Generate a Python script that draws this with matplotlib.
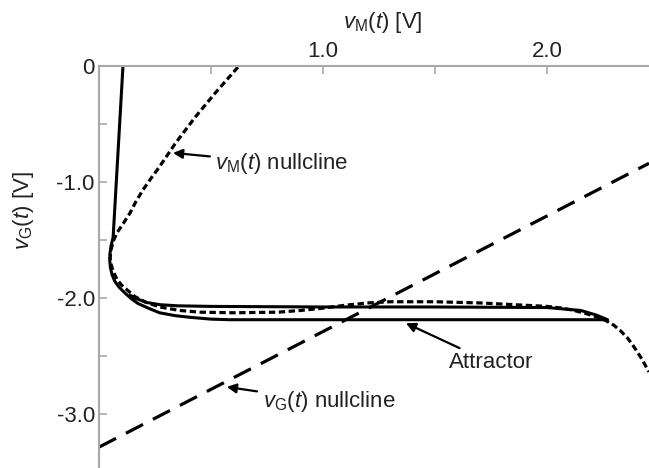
import matplotlib.pyplot as plt
import numpy as np

plt.rcParams['font.family'] = ['Liberation Sans', 'DejaVu Sans']
plt.rcParams['mathtext.fontset'] = 'custom'
plt.rcParams['mathtext.rm'] = 'Liberation Sans'
plt.rcParams['mathtext.it'] = 'Liberation Sans:italic'

# attractor trajectory (solid)
traj_vm = [0.107, 0.063, 0.054, 0.049, 0.048, 0.051, 0.058, 0.071, 0.09, 0.116, 0.145, 0.174,
           0.22, 0.27, 0.34, 0.41, 0.5, 0.58, 1.0, 1.5, 2.0, 2.27,
           2.22, 2.15, 2.0, 1.5, 1.0, 0.5, 0.35, 0.27, 0.21, 0.17, 0.14]
traj_vg = [0.0, -1.48, -1.55, -1.62, -1.68, -1.74, -1.8, -1.86, -1.91, -1.96, -2.01, -2.05,
           -2.09, -2.13, -2.155, -2.17, -2.185, -2.19, -2.19, -2.19, -2.19, -2.19,
           -2.15, -2.11, -2.085, -2.08, -2.08, -2.075, -2.07, -2.06, -2.04, -2.01, -1.98]

# v_M nullcline (dotted)
nm_vm = [0.62, 0.57, 0.52, 0.475, 0.43, 0.385, 0.34, 0.305, 0.27, 0.232, 0.196, 0.165, 0.138,
         0.108, 0.08, 0.062, 0.052, 0.05, 0.055, 0.065, 0.08, 0.1, 0.13, 0.16, 0.21, 0.27,
         0.36, 0.45, 0.6, 0.8, 0.9, 1.0, 1.1, 1.2, 1.3, 1.5, 1.7, 1.9, 2.0, 2.07, 2.12, 2.17,
         2.22, 2.26, 2.3, 2.33, 2.36, 2.39, 2.42, 2.455]
nm_vg = [-0.01, -0.12, -0.23, -0.335, -0.44, -0.555, -0.67, -0.77, -0.87, -0.97, -1.07, -1.17,
         -1.27, -1.36, -1.44, -1.52, -1.6, -1.66, -1.72, -1.78, -1.84, -1.89, -1.94, -1.99,
         -2.04, -2.08, -2.11, -2.125, -2.13, -2.125, -2.11, -2.09, -2.065, -2.045, -2.035,
         -2.035, -2.045, -2.065, -2.075, -2.09, -2.11, -2.135, -2.165, -2.195, -2.24, -2.29,
         -2.35, -2.43, -2.52, -2.64]

# v_G nullcline (long dashes)
ng_vm = [0.0, 2.455]
ng_vg = [-3.29, -0.84]

fig = plt.figure(figsize=(6.49, 4.68), dpi=100)
ax = fig.add_axes([99 / 649, 0.0, 1 - 99 / 649, 1 - 66 / 468])

ax.plot(traj_vm, traj_vg, color='black', lw=2.2, solid_joinstyle='round')
ax.plot(nm_vm, nm_vg, color='black', lw=2.3, dashes=(2.0, 1.1))
ax.plot(ng_vm, ng_vg, color='black', lw=2.3, dashes=(6, 3.5))

ax.set_xlim(0, 2.455)
ax.set_ylim(-3.47, 0)

gray = '#a8a8a8'
for s in ['right', 'bottom']:
    ax.spines[s].set_visible(False)
for s in ['left', 'top']:
    ax.spines[s].set_color(gray)
    ax.spines[s].set_linewidth(1.5)

fs = 16
ax.xaxis.tick_top()
ax.xaxis.set_label_position('top')
ax.set_xticks([0.5, 1.0, 1.5, 2.0])
ax.set_xticklabels(['', '1.0', '', '2.0'])
ax.set_yticks([0, -0.5, -1.0, -1.5, -2.0, -2.5, -3.0])
ax.set_yticklabels(['0', '', '-1.0', '', '-2.0', '', '-3.0'])
ax.tick_params(direction='in', length=6, width=1.2, color=gray, labelcolor='#222222',
               labelsize=fs, pad=3)

ax.set_xlabel(r'$v_{\mathrm{M}}(t)$ [V]', fontsize=fs, color='#222222')
ax.xaxis.set_label_coords(0.516, 1.095)
ax.set_ylabel(r'$v_{\mathrm{G}}(t)$ [V]', fontsize=fs, color='#222222')
ax.yaxis.set_label_coords(-0.115, 0.64)

arrow = dict(arrowstyle='-|>', color='black', lw=1.6, mutation_scale=14, shrinkA=2, shrinkB=0)
ax.annotate(r'$v_{\mathrm{M}}(t)$ nullcline', xy=(0.33, -0.75), xytext=(0.52, -0.84),
            fontsize=fs, va='center', ha='left', color='#222222', arrowprops=arrow)
ax.annotate('Attractor', xy=(1.37, -2.22), xytext=(1.56, -2.56),
            fontsize=fs, va='center', ha='left', color='#222222', arrowprops=arrow)
ax.annotate(r'$v_{\mathrm{G}}(t)$ nullcline', xy=(0.57, -2.77), xytext=(0.73, -2.9),
            fontsize=fs, va='center', ha='left', color='#222222', arrowprops=arrow)

fig.savefig('out.png', dpi=100)
